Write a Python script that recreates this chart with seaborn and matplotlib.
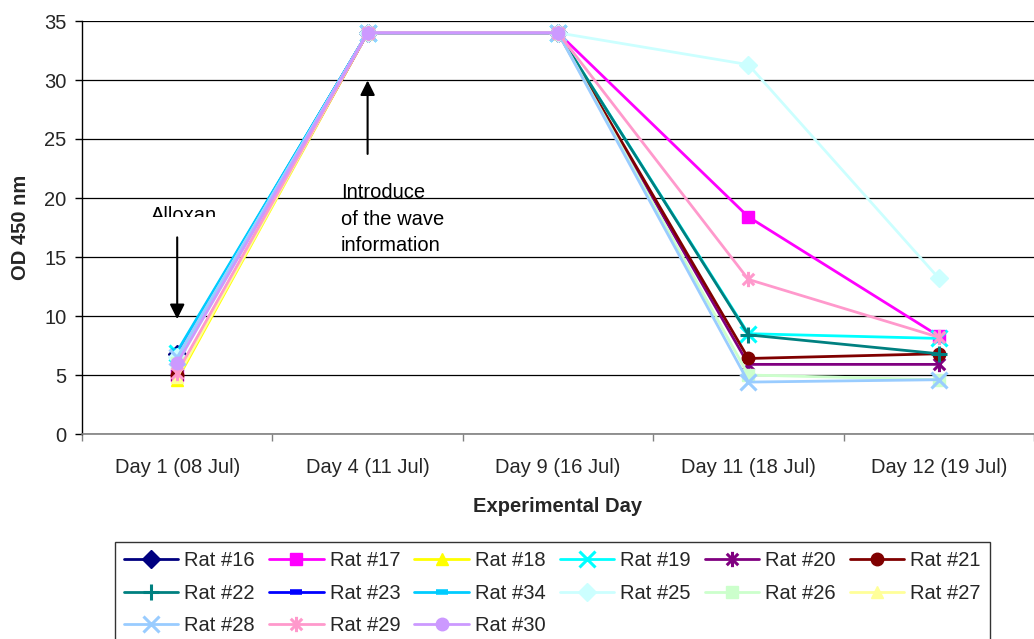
import numpy as np
import pandas as pd
import matplotlib
matplotlib.use("Agg")
import matplotlib.pyplot as plt
import seaborn as sns
from matplotlib.patches import Rectangle
from matplotlib.path import Path

days = ["Day 1 (08 Jul)", "Day 4 (11 Jul)", "Day 9 (16 Jul)", "Day 11 (18 Jul)", "Day 12 (19 Jul)"]

rats = ["Rat #16", "Rat #17", "Rat #18", "Rat #19", "Rat #20", "Rat #21", "Rat #22", "Rat #23",
        "Rat #34", "Rat #25", "Rat #26", "Rat #27", "Rat #28", "Rat #29", "Rat #30"]

nan = np.nan
rat16 = [6.8, 34, 34, nan, nan]
rat17 = [5.0, 34, 34, 18.4, 8.3]
rat18 = [4.6, 34, 34, nan, nan]
rat19 = [6.9, 34, 34, 8.5, 8.1]
rat20 = [5.0, 34, 34, 5.9, 5.9]
rat21 = [5.0, 34, 34, 6.4, 6.8]
rat22 = [6.5, 34, 34, 8.4, 6.8]
rat23 = [6.8, 34, 34, nan, nan]
rat34 = [7.0, 34, 34, nan, nan]
rat25 = [6.5, 34, 34, 31.3, 13.2]
rat26 = [6.0, 34, 34, 5.0, 4.6]
rat27 = [4.8, 34, 34, nan, nan]
rat28 = [6.5, 34, 34, 4.4, 4.6]
rat29 = [5.2, 34, 34, 13.1, 8.2]
rat30 = [6.0, 34, 34, nan, nan]

values = [rat16, rat17, rat18, rat19, rat20, rat21, rat22, rat23,
          rat34, rat25, rat26, rat27, rat28, rat29, rat30]

colors = ["#000080", "#FF00FF", "#FFFF00", "#00FFFF", "#800080", "#800000", "#008080", "#0000FF",
          "#00CCFF", "#CCFFFF", "#CCFFCC", "#FFFF99", "#99CCFF", "#FF99CC", "#CC99FF"]

# star marker: an "x" crossed by a vertical stroke
star = Path([(0, -1), (0, 1), (-0.75, -0.75), (0.75, 0.75), (-0.75, 0.75), (0.75, -0.75)],
            [Path.MOVETO, Path.LINETO, Path.MOVETO, Path.LINETO, Path.MOVETO, Path.LINETO])
markers = ["D", "s", "^", "x", star, "o", "+", "_",
           "_", "D", "s", "^", "x", star, "o"]

sns.set_theme(style="white")
plt.rcParams["font.family"] = ["Liberation Sans", "DejaVu Sans"]
FS = 14.5

fig = plt.figure(figsize=(10.34, 6.39), dpi=100)
ax = fig.add_axes([82 / 1034, 1 - 434 / 639, 1 - 82 / 1034, (434 - 21) / 639])

xpos = np.arange(len(days))
handles = []
for name, vals, col, mk in zip(rats, values, colors, markers):
    df = pd.DataFrame({"x": xpos, "y": vals}).dropna()
    stroke = mk is star or mk in ("x", "+")
    if mk == "_":
        ms, mew = 8, 4
    elif stroke:
        ms, mew = 11, 2.2
    else:
        ms, mew = 9, 1
    sns.lineplot(data=df, x="x", y="y", ax=ax, color=col, lw=2, marker=mk,
                 markersize=ms, markeredgecolor=col, markerfacecolor=col,
                 markeredgewidth=mew, label=name, legend=False)
    handles.append(ax.lines[-1])

ax.set_xlim(-0.5, (1034 - 82) / 193 - 0.5)
ax.set_ylim(0, 35)
ax.set_yticks(np.arange(0, 36, 5))
ax.set_xticks(xpos)
ax.set_xticklabels(days, fontsize=FS)
ax.tick_params(axis="y", labelsize=FS, length=5, width=1, color="#000000", direction="out",
               left=True, pad=6)
ax.tick_params(axis="x", length=0, pad=17)
ax.set_xticks(np.arange(-0.5, 4.6, 1), minor=True)
ax.tick_params(axis="x", which="minor", length=5, width=1, color="#808080", direction="out", bottom=True)

ax.yaxis.grid(True, color="#000000", lw=0.9)
ax.set_axisbelow(True)
for s in ("top", "right"):
    ax.spines[s].set_visible(False)
ax.spines["left"].set_color("#000000")
ax.spines["left"].set_linewidth(1)
ax.spines["bottom"].set_color("#808080")
ax.spines["bottom"].set_linewidth(1.2)

ax.set_ylabel("OD 450 nm", fontsize=FS, fontweight="bold", labelpad=10)
ax.set_xlabel("Experimental Day", fontsize=FS, fontweight="bold", labelpad=15)

# Alloxan note, only its upper half shows
txt = ax.text(-0.14, 19.35, "Alloxan", fontsize=FS, ha="left", va="top", color="#000000",
              clip_on=True)
clip = Rectangle((-0.5, 18.4), 1.2, 5, transform=ax.transData)
txt.set_clip_path(clip)
ax.annotate("", xy=(0, 9.5), xytext=(0, 16.9),
            arrowprops=dict(arrowstyle="-|>", color="black", lw=1.5, mutation_scale=22))

ax.text(-0.14 + 1, 18.2, "Introduce\nof the wave\ninformation", fontsize=FS, ha="left",
        va="center", linespacing=1.5, color="#000000")
ax.annotate("", xy=(1, 30.2), xytext=(1, 23.5),
            arrowprops=dict(arrowstyle="-|>", color="black", lw=1.5, mutation_scale=22))

# legend laid out row by row across six columns
order = [0, 6, 12, 1, 7, 13, 2, 8, 14, 3, 9, 4, 10, 5, 11]
leg = fig.legend([handles[i] for i in order], [rats[i] for i in order], ncol=6,
                 loc="upper left", bbox_to_anchor=(115 / 1034, 1 - 542 / 639),
                 borderaxespad=0, frameon=True, fancybox=False, edgecolor="#000000",
                 fontsize=FS, handlelength=2.7, columnspacing=0.7, handletextpad=0.3,
                 labelspacing=0.68, borderpad=0.45)
leg.get_frame().set_linewidth(1)

fig.savefig("out.png", dpi=100)
